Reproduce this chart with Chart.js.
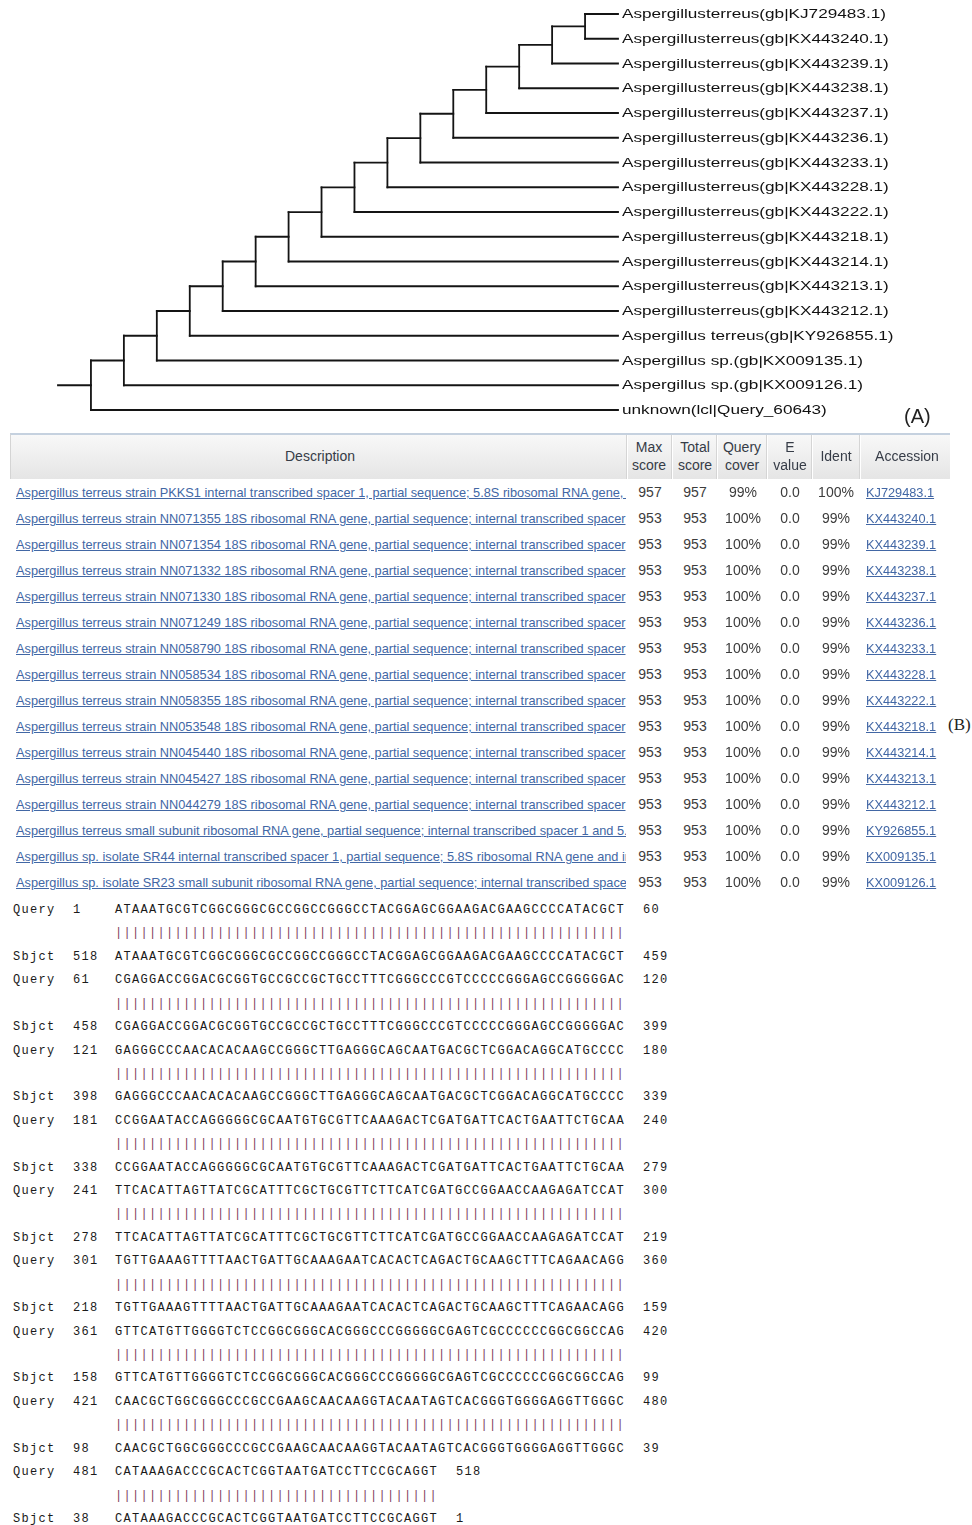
<!DOCTYPE html>
<html><head><meta charset="utf-8">
<script src="https://cdn.jsdelivr.net/npm/chart.js@4.4.1/dist/chart.umd.min.js"></script>
<style>
html,body{margin:0;padding:0;background:#fff;}
#page{position:relative;width:972px;height:1525px;overflow:hidden;font-family:"Liberation Sans",Arial,sans-serif;}
#treeWrap{position:absolute;left:0;top:0;width:972px;height:430px;}
#labA{position:absolute;left:904px;top:403px;font-size:20px;color:#222;line-height:26px;}
#labB{position:absolute;left:948px;top:714px;font-family:"Liberation Serif","Times New Roman",serif;font-size:17px;color:#222;line-height:22px;white-space:nowrap;}
#hdr{position:absolute;left:10px;top:433px;width:940px;height:46px;background:linear-gradient(#f8f8f8,#e5e5e5);border-top:2px solid #c5d1df;border-left:1px solid #d4d4d4;box-sizing:border-box;}
.sep{position:absolute;top:435px;width:1px;height:44px;background:#fff;box-shadow:-1px 0 0 #d5d5d5;}
.hl{position:absolute;font-size:14px;color:#363c47;text-align:center;line-height:18px;white-space:nowrap;transform:translateX(-50%);}
.cell{position:absolute;height:20px;line-height:20px;font-size:14px;color:#3c3c3c;white-space:nowrap;}
.num{transform:translateX(-50%);}
.lnk{color:#4267a5;text-decoration:underline;font-size:12.75px;}
.desc{overflow:hidden;width:610px;}
.aln{position:absolute;font-family:"Liberation Mono","DejaVu Sans Mono",monospace;font-size:12px;letter-spacing:1.3px;color:#1a1a1a;white-space:pre;line-height:16px;}
.bars{color:#7d3a5e;}
</style></head>
<body><div id="page">
<div id="treeWrap"><canvas id="tree"></canvas></div>
<div id="labA">(A)</div>
<div id="hdr"></div>
<div id="labB">(B)</div>
</div>
<script>
// ---------- Tree data ----------
const leafLabels = [
 "Aspergillusterreus(gb|KJ729483.1)",
 "Aspergillusterreus(gb|KX443240.1)",
 "Aspergillusterreus(gb|KX443239.1)",
 "Aspergillusterreus(gb|KX443238.1)",
 "Aspergillusterreus(gb|KX443237.1)",
 "Aspergillusterreus(gb|KX443236.1)",
 "Aspergillusterreus(gb|KX443233.1)",
 "Aspergillusterreus(gb|KX443228.1)",
 "Aspergillusterreus(gb|KX443222.1)",
 "Aspergillusterreus(gb|KX443218.1)",
 "Aspergillusterreus(gb|KX443214.1)",
 "Aspergillusterreus(gb|KX443213.1)",
 "Aspergillusterreus(gb|KX443212.1)",
 "Aspergillus terreus(gb|KY926855.1)",
 "Aspergillus sp.(gb|KX009135.1)",
 "Aspergillus sp.(gb|KX009126.1)",
 "unknown(lcl|Query_60643)"
];
const joinDepth = [15,15,14,13,12,11,10,9,8,7,6,5,4,3,2,1,0];
const tipDepth = 16;
const rootStubStart = -1;

// ---------- BLAST table data ----------
const descriptions = [
 "Aspergillus terreus strain PKKS1 internal transcribed spacer 1, partial sequence; 5.8S ribosomal RNA gene, and internal",
 "Aspergillus terreus strain NN071355 18S ribosomal RNA gene, partial sequence; internal transcribed spacer",
 "Aspergillus terreus strain NN071354 18S ribosomal RNA gene, partial sequence; internal transcribed spacer",
 "Aspergillus terreus strain NN071332 18S ribosomal RNA gene, partial sequence; internal transcribed spacer",
 "Aspergillus terreus strain NN071330 18S ribosomal RNA gene, partial sequence; internal transcribed spacer",
 "Aspergillus terreus strain NN071249 18S ribosomal RNA gene, partial sequence; internal transcribed spacer",
 "Aspergillus terreus strain NN058790 18S ribosomal RNA gene, partial sequence; internal transcribed spacer",
 "Aspergillus terreus strain NN058534 18S ribosomal RNA gene, partial sequence; internal transcribed spacer",
 "Aspergillus terreus strain NN058355 18S ribosomal RNA gene, partial sequence; internal transcribed spacer",
 "Aspergillus terreus strain NN053548 18S ribosomal RNA gene, partial sequence; internal transcribed spacer",
 "Aspergillus terreus strain NN045440 18S ribosomal RNA gene, partial sequence; internal transcribed spacer",
 "Aspergillus terreus strain NN045427 18S ribosomal RNA gene, partial sequence; internal transcribed spacer",
 "Aspergillus terreus strain NN044279 18S ribosomal RNA gene, partial sequence; internal transcribed spacer",
 "Aspergillus terreus small subunit ribosomal RNA gene, partial sequence; internal transcribed spacer 1 and 5.8S",
 "Aspergillus sp. isolate SR44 internal transcribed spacer 1, partial sequence; 5.8S ribosomal RNA gene and internal",
 "Aspergillus sp. isolate SR23 small subunit ribosomal RNA gene, partial sequence; internal transcribed spacer"
];
const maxScores   = [957,953,953,953,953,953,953,953,953,953,953,953,953,953,953,953];
const totalScores = [957,953,953,953,953,953,953,953,953,953,953,953,953,953,953,953];
const queryCovers = ["99%","100%","100%","100%","100%","100%","100%","100%","100%","100%","100%","100%","100%","100%","100%","100%"];
const eValues     = ["0.0","0.0","0.0","0.0","0.0","0.0","0.0","0.0","0.0","0.0","0.0","0.0","0.0","0.0","0.0","0.0"];
const idents      = ["100%","99%","99%","99%","99%","99%","99%","99%","99%","99%","99%","99%","99%","99%","99%","99%"];
const accessions  = ["KJ729483.1","KX443240.1","KX443239.1","KX443238.1","KX443237.1","KX443236.1","KX443233.1","KX443228.1","KX443222.1","KX443218.1","KX443214.1","KX443213.1","KX443212.1","KY926855.1","KX009135.1","KX009126.1"];

// ---------- Alignment data ----------
const alnQueryStart = [1,61,121,181,241,301,361,421,481];
const alnQueryEnd   = [60,120,180,240,300,360,420,480,518];
const alnSbjctStart = [518,458,398,338,278,218,158,98,38];
const alnSbjctEnd   = [459,399,339,279,219,159,99,39,1];
const alnSeqs = [
 "ATAAATGCGTCGGCGGGCGCCGGCCGGGCCTACGGAGCGGAAGACGAAGCCCCATACGCT",
 "CGAGGACCGGACGCGGTGCCGCCGCTGCCTTTCGGGCCCGTCCCCCGGGAGCCGGGGGAC",
 "GAGGGCCCAACACACAAGCCGGGCTTGAGGGCAGCAATGACGCTCGGACAGGCATGCCCC",
 "CCGGAATACCAGGGGGCGCAATGTGCGTTCAAAGACTCGATGATTCACTGAATTCTGCAA",
 "TTCACATTAGTTATCGCATTTCGCTGCGTTCTTCATCGATGCCGGAACCAAGAGATCCAT",
 "TGTTGAAAGTTTTAACTGATTGCAAAGAATCACACTCAGACTGCAAGCTTTCAGAACAGG",
 "GTTCATGTTGGGGTCTCCGGCGGGCACGGGCCCGGGGGCGAGTCGCCCCCCGGCGGCCAG",
 "CAACGCTGGCGGGCCCGCCGAAGCAACAAGGTACAATAGTCACGGGTGGGGAGGTTGGGC",
 "CATAAAGACCCGCACTCGGTAATGATCCTTCCGCAGGT"
];

// ---------- Build tree segments ----------
const segs = [];
let nodeD = joinDepth[1], nodeY = 0.5;
segs.push([[nodeD,0],[nodeD,1]]);
segs.push([[nodeD,0],[tipDepth,0]]);
segs.push([[nodeD,1],[tipDepth,1]]);
for (let i = 2; i < leafLabels.length; i++) {
  const d = joinDepth[i];
  segs.push([[d,nodeY],[nodeD,nodeY]]);
  segs.push([[d,nodeY],[d,i]]);
  segs.push([[d,i],[tipDepth,i]]);
  nodeY = (nodeY + i) / 2; nodeD = d;
}
segs.push([[rootStubStart,nodeY],[nodeD,nodeY]]);

const labelPlugin = {
  id:'leafLabels',
  afterDatasetsDraw(chart){
    const ctx = chart.ctx, xs = chart.scales.x, ys = chart.scales.y;
    ctx.save();
    ctx.fillStyle = '#111';
    ctx.textBaseline = 'middle';
    ctx.font = '13px "Liberation Sans", Arial, sans-serif';
    leafLabels.forEach((lab,i)=>{
      const x = xs.getPixelForValue(tipDepth) + 4;
      const y = ys.getPixelForValue(i);
      ctx.save(); ctx.translate(x, y + 0.5); ctx.scale(1.32, 1);
      ctx.fillText(lab, 0, 0); ctx.restore();
    });
    ctx.restore();
  }
};

new Chart(document.getElementById('tree'), {
  type:'scatter',
  data:{ datasets: segs.map(s=>({
    data: s.map(p=>({x:p[0], y:p[1]})),
    showLine:true, borderColor:'#141414', borderWidth:1.8, pointRadius:0,
    borderCapStyle:'square', clip:false, fill:false
  }))},
  options:{
    responsive:true, maintainAspectRatio:false, animation:false, events:[],
    layout:{padding:{left:58, right:354, top:14, bottom:20}},
    plugins:{legend:{display:false}, tooltip:{enabled:false}},
    scales:{
      x:{type:'linear', min:rootStubStart, max:tipDepth, display:false},
      y:{type:'linear', min:0, max:leafLabels.length-1, reverse:true, display:false}
    }
  },
  plugins:[labelPlugin]
});

// ---------- Build table ----------
const page = document.getElementById('page');
function add(cls, html, css){ const d=document.createElement('div'); d.className=cls; d.innerHTML=html; Object.assign(d.style, css); page.appendChild(d); return d; }
[627,672,717,767,812,860].forEach(x=>add('sep','',{left:x+'px'}));
add('hl','Description',{left:'320px',top:'447px'});
[["Max","score",649],["Total","score",695],["Query","cover",742],["E","value",790]].forEach(h=>{
  add('hl',h[0]+'<br>'+h[1],{left:h[2]+'px',top:'438px'});
});
add('hl','Ident',{left:'836px',top:'447px'});
add('hl','Accession',{left:'907px',top:'447px'});

descriptions.forEach((d,i)=>{
  const top = (492 + 26*i - 10) + 'px';
  add('cell desc','<span class="lnk">'+d+'</span>',{left:'16px',top});
  add('cell num',String(maxScores[i]),{left:'650px',top});
  add('cell num',String(totalScores[i]),{left:'695px',top});
  add('cell num',queryCovers[i],{left:'743px',top});
  add('cell num',eValues[i],{left:'790px',top});
  add('cell num',idents[i],{left:'836px',top});
  add('cell','<span class="lnk">'+accessions[i]+'</span>',{left:'866px',top});
});

// ---------- Alignment ----------
const LH = 23.42, CW = 8.5;
alnSeqs.forEach((seq,k)=>{
  const y0 = 910 + LH*3*k;
  const endX = 115 + seq.length*CW + 18;
  const rows = [
    ['Query', alnQueryStart[k], seq, alnQueryEnd[k], y0],
    ['Sbjct', alnSbjctStart[k], seq, alnSbjctEnd[k], y0 + 2*LH]
  ];
  rows.forEach(r=>{
    const t = (r[4]-8)+'px';
    add('aln',r[0],{left:'13px',top:t});
    add('aln',String(r[1]),{left:'73px',top:t});
    add('aln',r[2],{left:'115px',top:t});
    add('aln',String(r[3]),{left:endX+'px',top:t});
  });
  add('aln bars','|'.repeat(seq.length),{left:'115px',top:(y0+LH-8)+'px'});
});
</script>
</body></html>
